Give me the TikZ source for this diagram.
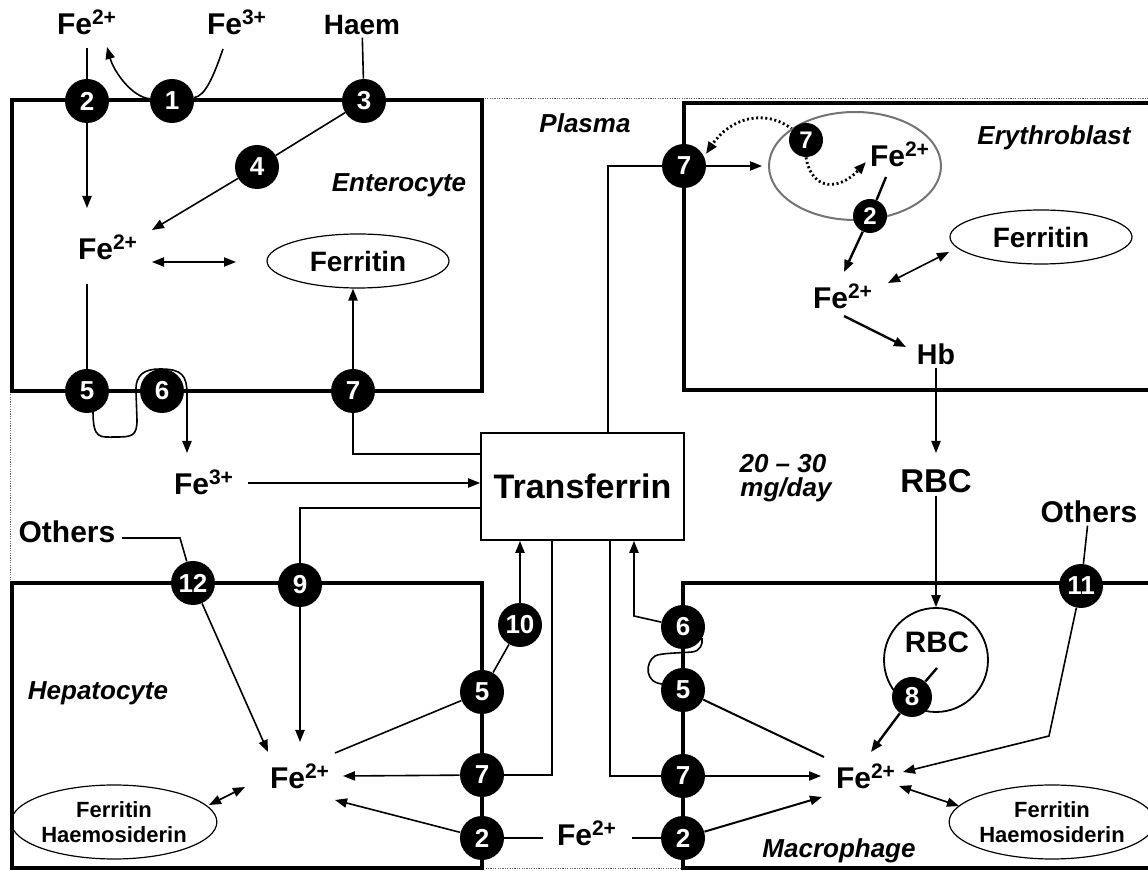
\documentclass[tikz,border=0pt]{standalone}
\usepackage{fontspec}
\setmainfont{Liberation Sans}
\usetikzlibrary{arrows.meta,shapes.geometric,calc}
\pgfdeclarelayer{back}
\pgfsetlayers{back,main}
\begin{document}
\begin{tikzpicture}[x=0.5pt,y=-0.5pt,
  conn/.style={line width=0.8pt},
  tip/.tip={Triangle[length=6pt,width=4.6pt]},
  arr/.style={conn,-tip},
  darr/.style={conn,tip-tip},
  heavy/.style={line width=1.2pt},
  dotarr/.style={line width=1.4pt,dash pattern=on 1pt off 1.3pt,-tip},
  cellbox/.style={line width=1.8pt},
  numc/.style={circle,fill=black,text=white,inner sep=0pt,minimum size=22pt,font=\fontsize{13}{15}\selectfont\bfseries},
  nums/.style={numc,minimum size=17pt,font=\fontsize{12}{14}\selectfont\bfseries},
  lbl/.style={font=\fontsize{15}{18}\selectfont\bfseries,inner sep=1pt,anchor=base},
  ital/.style={font=\fontsize{13}{15}\selectfont\bfseries\itshape,inner sep=1pt,anchor=base},
  ell/.style={ellipse,draw,line width=0.6pt,inner sep=0pt},
  ferr/.style={ell,minimum width=91pt,minimum height=27pt,font=\fontsize{14}{16}\selectfont\bfseries},
  fh/.style={ell,minimum width=91pt,minimum height=37pt,align=center,font=\fontsize{11}{12.5}\selectfont\bfseries}
]
\useasboundingbox (0,0) rectangle (1148,871);

% ---------- text labels ----------
\node[lbl] (fe2top) at (87,35) {Fe\textsuperscript{2+}};
\node[lbl] (fe3top) at (237,35) {Fe\textsuperscript{3+}};
\node[lbl,font=\fontsize{14}{16}\selectfont\bfseries] (haem) at (362,35) {Haem};
\node[lbl] (fe2ent) at (108,260) {Fe\textsuperscript{2+}};
\node[ferr] (ferritinA) at (358,261) {Ferritin};
\node[ital] (enterocyte) at (399,192) {Enterocyte};
\node[lbl] (fe3mid) at (204,495) {Fe\textsuperscript{3+}};
\node[draw,line width=0.9pt,minimum width=101.5pt,minimum height=53.5pt,inner sep=0pt,
      font=\fontsize{17}{19}\selectfont\bfseries] (tf) at (582.5,486.5) {Transferrin};
\node[ital] (plasma) at (585,133) {Plasma};
\node[ellipse,draw=black!55,line width=1pt,minimum width=86pt,minimum height=54pt] (eryell) at (855,166) {};
\node[lbl] (fe2eryin) at (900,167) {Fe\textsuperscript{2+}};
\node[lbl] (fe2ery) at (843,309) {Fe\textsuperscript{2+}};
\node[ferr] (ferritinB) at (1041,237) {Ferritin};
\node[lbl,font=\fontsize{14.3}{16}\selectfont\bfseries] (hb) at (936,365) {Hb};
\node[ital] (erythro) at (1054,145) {Erythroblast};
\node[ital] (rate1) at (783,473) {20 -- 30};
\node[ital] (rate2) at (786,497) {mg/day};
\node[lbl,font=\fontsize{16.5}{18}\selectfont\bfseries] (rbc) at (936,493) {RBC};
\node[lbl] (othersR) at (1089,523) {Others};
\node[lbl] (othersL) at (67,543) {Others};
\node[ital] (hepatocyte) at (98,700) {Hepatocyte};
\node[lbl] (fe2hep) at (300,789) {Fe\textsuperscript{2+}};
\node[fh] (ferhemA) at (114,822) {Ferritin\\Haemosiderin};
\node[lbl] (fe2bot) at (587,846) {Fe\textsuperscript{2+}};
\node[circle,draw,line width=0.9pt,minimum size=52pt,inner sep=0pt] (rbccell) at (936,660) {};
\node[lbl,font=\fontsize{14.8}{16}\selectfont\bfseries] (rbcin) at (937,653) {RBC};
\node[lbl] (fe2mac) at (866,789) {Fe\textsuperscript{2+}};
\node[fh] (ferhemB) at (1052,822) {Ferritin\\Haemosiderin};
\node[ital] (macrophage) at (839,858) {Macrophage};

% ---------- numbered transporters ----------
\node[numc] (c2a) at (87,101) {2};
\node[numc] (c1) at (172,101) {1};
\node[numc] (c3) at (364,101) {3};
\node[numc] (c4) at (257,167) {4};
\node[numc] (c5a) at (87,391) {5};
\node[numc] (c6a) at (162,391) {6};
\node[numc] (c7a) at (353,391) {7};
\node[numc] (c7b) at (684,166) {7};
\node[nums] (c7c) at (806,140) {7};
\node[nums] (c2b) at (870,216) {2};
\node[numc] (c11) at (1081,586) {11};
\node[numc] (c12) at (193,583) {12};
\node[numc] (c9) at (300,585) {9};
\node[numc] (c10) at (520,625) {10};
\node[numc] (c5h) at (482,692) {5};
\node[numc] (c7h) at (482,775) {7};
\node[numc] (c2h) at (482,838) {2};
\node[numc] (c6m) at (683,627) {6};
\node[numc] (c5m) at (683,690) {5};
\node[numc] (c7m) at (683,776) {7};
\node[numc] (c2m) at (683,838) {2};
\node[numc,minimum size=20pt] (c8) at (912,697) {8};

% ---------- free ends ----------
\coordinate (p1a) at (223,49);
\coordinate (p1b) at (107,47);
\coordinate (q1) at (87,208);
\coordinate (q2) at (152,230);
\coordinate (q3) at (152,262);
\coordinate (q4) at (236,262);
\coordinate (q5) at (87,284);
\coordinate (lp0) at (93,411);
\coordinate (lp1) at (187,453);
\coordinate (q6) at (248,483);
\coordinate (q7) at (300,742);
\coordinate (q8a) at (122,538);
\coordinate (q8) at (180,538);
\coordinate (q9) at (268,752);
\coordinate (q11) at (706,154);
\coordinate (q12) at (866,162);
\coordinate (q13) at (886,177);
\coordinate (q14) at (844,272);
\coordinate (q15) at (888,283);
\coordinate (q16) at (949,252);
\coordinate (q17) at (844,316);
\coordinate (q18) at (906,347);
\coordinate (q19) at (936,453);
\coordinate (q20) at (1049,736);
\coordinate (q21) at (903,772);
\coordinate (q22) at (937,668);
\coordinate (q23) at (871,752);
\coordinate (q24) at (899,786);
\coordinate (q25) at (959,806);
\coordinate (q26) at (821,776);
\coordinate (q27) at (824,757);
\coordinate (q28) at (822,797);
\coordinate (q29) at (632,838);
\coordinate (k6) at (634,616);
\coordinate (lm0) at (664,684);
\coordinate (q31) at (343,776);
\coordinate (q32) at (335,753);
\coordinate (q33) at (335,800);
\coordinate (q34) at (543,838);
\coordinate (q35) at (209,805);
\coordinate (q36) at (245,787);

\begin{pgfonlayer}{back}
% plasma outline and cells
\draw[black!60,line width=0.5pt,dash pattern=on 0.6pt off 0.6pt] (10,99) rectangle (1170,869);
\draw[cellbox] (12,100) rectangle (482,391);
\draw[cellbox] (684,103) rectangle (1170,390);
\draw[cellbox] (12,583) rectangle (482,868);
\draw[cellbox] (683,583) rectangle (1170,868);

% enterocyte
\draw[conn] (p1a) .. controls (213,78) and (205,96) .. (c1);
\draw[arr] (c1) .. controls (132,97) and (114,72) .. (p1b);
\draw[conn,shorten <=5pt] (fe2top) -- (c2a);
\draw[arr] (c2a) -- (q1);
\draw[conn] (haem) -- (c3);
\draw[conn] (c3) -- (c4);
\draw[arr] (c4) -- (q2);
\draw[darr] (q3) -- (q4);
\draw[conn] (q5) -- (c5a);
\draw[arr] (c7a) -- (c7a |- ferritinA.south);
\draw[arr] (lp0) .. controls (93,440) and (100,437) .. (116,437)
   .. controls (132,437) and (137,436) .. (137,420) -- (136,392)
   .. controls (135,374) and (145,369) .. (160,369)
   .. controls (182,369) and (187,375) .. (187,395) -- (lp1);
\draw[arr] (q6) -- (q6 -| tf.west);
\draw[conn] (c7a) |- ($(tf.north west)+(0,22)$);

% plasma to hepatocyte
\draw[conn] ($(tf.north west)+(0,76)$) -| (c9);
\draw[arr] (c9) -- (q7);
\draw[conn] (q8a) -- (q8) -- (c12);
\draw[arr] (c12) -- (q9);

% erythroblast
\draw[conn] ($(tf.north west)+(128,0)$) |- (c7b);
\draw[arr,shorten >=3pt] (c7b) -- (eryell);
\draw[dotarr] (c7c) .. controls (765,108) and (730,118) .. (q11);
\draw[dotarr] (c7c.south) .. controls (812,192) and (840,190) .. (q12);
\draw[conn,heavy] (q13) -- (c2b);
\draw[arr,heavy] (c2b) -- (q14);
\draw[darr] (q15) -- (q16);
\draw[arr,heavy] (q17) -- (q18);
\draw[arr] (hb) -- (q19);
\draw[arr] (rbc) -- (rbccell);

% hepatocyte
\draw[arr] (c10) -- (c10 |- tf.south);
\draw[conn] (c5h) -- (c10);
\draw[conn] (c5h) -- (q32);
\draw[conn] ($(tf.south west)+(72,0)$) |- (c7h);
\draw[arr] (c7h) -- (q31);
\draw[arr] (c2h) -- (q33);
\draw[conn] (c2h) -- (q34);
\draw[conn] (q29) -- (c2m);
\draw[darr] (q35) -- (q36);

% macrophage
\draw[conn] ($(tf.south west)+(130,0)$) |- (c7m);
\draw[arr] (c7m) -- (q26);
\draw[arr] (c6m) -- (k6) -- (k6 |- tf.south);
\draw[conn] (lm0) .. controls (644,684) and (645,662) .. (655,656)
   .. controls (660,653) and (680,653) .. (692,652)
   .. controls (700,651) and (703,645) .. (702,638);
\draw[conn,line width=1pt] (c5m) -- (q27);
\draw[arr,line width=1pt] (c2m) -- (q28);
\draw[conn] (othersR) -- (c11);
\draw[arr] (c11) -- (q20) -- (q21);
\draw[conn,heavy] (q22) -- (c8);
\draw[arr,heavy] (c8) -- (q23);
\draw[darr] (q24) -- (q25);
\end{pgfonlayer}
\end{tikzpicture}
\end{document}
